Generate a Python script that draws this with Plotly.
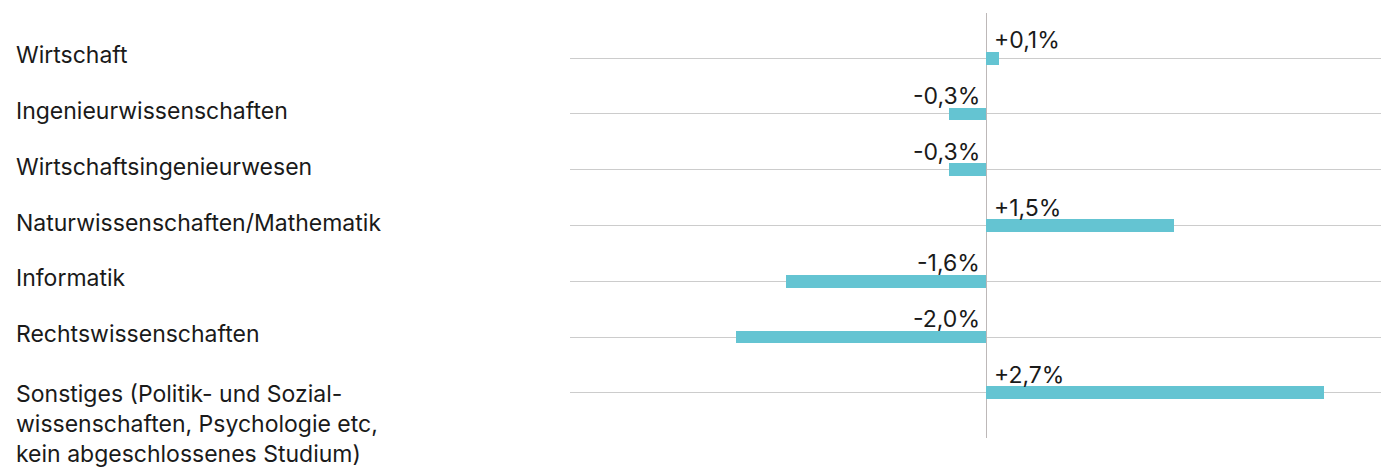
import plotly.graph_objects as go

categories = [
    "Wirtschaft",
    "Ingenieurwissenschaften",
    "Wirtschaftsingenieurwesen",
    "Naturwissenschaften/Mathematik",
    "Informatik",
    "Rechtswissenschaften",
    "Sonstiges (Politik- und Sozial-<br>wissenschaften, Psychologie etc,<br>kein abgeschlossenes Studium)",
]
values = [0.1, -0.3, -0.3, 1.5, -1.6, -2.0, 2.7]
value_labels = ["+0,1%", "-0,3%", "-0,3%", "+1,5%", "-1,6%", "-2,0%", "+2,7%"]

FONT = "Inter"
TEXT_COLOR = "#1a1a1a"
BAR_COLOR = "#64c4d2"

# page body has an 8px margin
W, H = 1381, 460
ML, MR, MT, MB = 562, 0, 5, 30
plot_w = W - ML - MR

pos = list(range(len(categories)))

fig = go.Figure()
fig.add_trace(go.Bar(
    x=values, y=pos, orientation="h",
    marker=dict(color=BAR_COLOR, line=dict(width=0)),
    width=0.23,
    hoverinfo="skip",
))

annotations = []
for i, (cat, v, lab) in enumerate(zip(categories, values, value_labels)):
    multiline = "<br>" in cat
    annotations.append(dict(
        xref="paper", yref="y",
        x=(6 - ML) / plot_w, y=i,
        xanchor="left", yanchor="top" if multiline else "middle",
        yshift=15 if multiline else 3,
        text=cat, showarrow=False, align="left",
        font=dict(family=FONT, size=23, color=TEXT_COLOR),
    ))
    annotations.append(dict(
        xref="x", yref="y", x=0, y=i,
        xanchor="left" if v >= 0 else "right",
        yanchor="bottom",
        xshift=6 if v >= 0 else -4,
        yshift=2,
        text=lab, showarrow=False,
        font=dict(family=FONT, size=23, color=TEXT_COLOR),
    ))

fig.update_layout(
    width=W, height=H,
    margin=dict(l=ML, r=MR, t=MT, b=MB),
    paper_bgcolor="white", plot_bgcolor="white",
    showlegend=False,
    bargap=0,
    xaxis=dict(
        range=[-3.328, 3.224], showgrid=False, showticklabels=False,
        zeroline=True, zerolinecolor="#bdb8b8", zerolinewidth=1,
        fixedrange=True,
    ),
    yaxis=dict(
        range=[6.81, -0.81], tickvals=pos, showticklabels=False,
        showgrid=True, gridcolor="#cccccc", gridwidth=1,
        zeroline=False, fixedrange=True,
    ),
    annotations=annotations,
)

fig.write_html("out.html")
